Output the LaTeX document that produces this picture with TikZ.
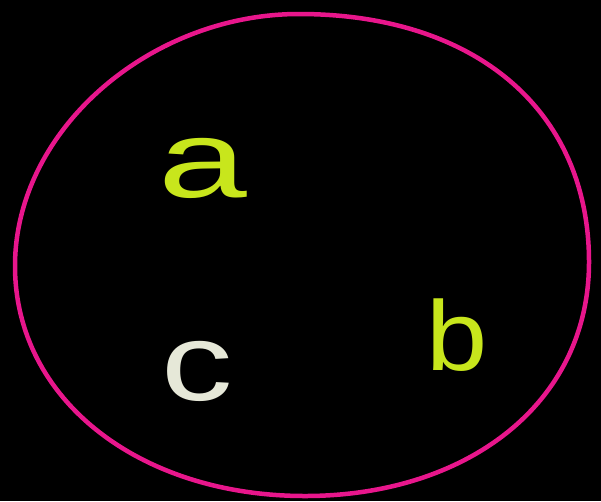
\documentclass[tikz,border=0pt]{standalone}
\usepackage{fontspec}
\setmainfont{Liberation Sans}
\definecolor{rimpink}{HTML}{E8168C}
\definecolor{chalkgreen}{HTML}{C8E61C}
\definecolor{chalkwhite}{HTML}{E6E8D8}

\begin{document}
\begin{tikzpicture}[x=1pt, y=-1pt,
  rim/.style={draw=rimpink, line width=4.5pt},
  letter/.style={inner sep=0pt, font=\fontsize{110}{110}\selectfont},
]
  \fill[black] (0,0) rectangle (601,501);
  \useasboundingbox (0,0) rectangle (601,501);
  \coordinate (top) at (299,14);
  \coordinate (right) at (589,262);
  \coordinate (bottom) at (305,496);
  \coordinate (left) at (15,266);
  \draw[rim] (top) .. controls (475,14) and (589,110) .. (right)
    .. controls (589,405) and (465,496) .. (bottom)
    .. controls (140,496) and (15,400) .. (left)
    .. controls (15,130) and (150,14) .. (top) -- cycle;
  \node[letter, chalkgreen, xscale=1.45] (a) at (203,168) {a};
  \node[letter, chalkgreen, yscale=0.9] (b) at (457,335) {b};
  \node[letter, chalkwhite, xscale=1.3] (c) at (197,371) {c};
\end{tikzpicture}
\end{document}
